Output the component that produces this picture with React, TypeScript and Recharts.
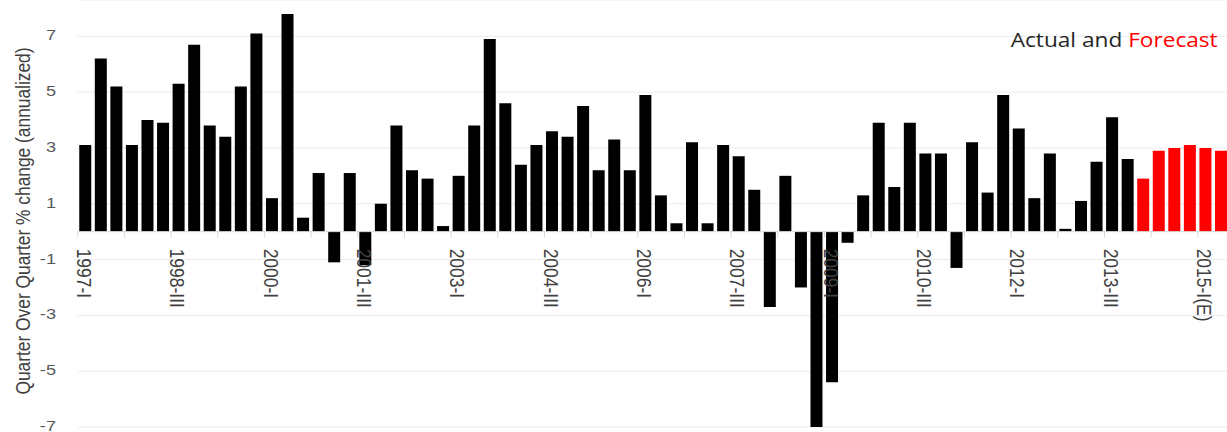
import React from "react";
import { BarChart, Bar, XAxis, YAxis, CartesianGrid, ReferenceLine, Cell } from "recharts";

const CATEGORIES: string[] = [
  "1997-I", "1997-II", "1997-III", "1997-IV",
  "1998-I", "1998-II", "1998-III", "1998-IV",
  "1999-I", "1999-II", "1999-III", "1999-IV",
  "2000-I", "2000-II", "2000-III", "2000-IV",
  "2001-I", "2001-II", "2001-III", "2001-IV",
  "2002-I", "2002-II", "2002-III", "2002-IV",
  "2003-I", "2003-II", "2003-III", "2003-IV",
  "2004-I", "2004-II", "2004-III", "2004-IV",
  "2005-I", "2005-II", "2005-III", "2005-IV",
  "2006-I", "2006-II", "2006-III", "2006-IV",
  "2007-I", "2007-II", "2007-III", "2007-IV",
  "2008-I", "2008-II", "2008-III", "2008-IV",
  "2009-I", "2009-II", "2009-III", "2009-IV",
  "2010-I", "2010-II", "2010-III", "2010-IV",
  "2011-I", "2011-II", "2011-III", "2011-IV",
  "2012-I", "2012-II", "2012-III", "2012-IV",
  "2013-I", "2013-II", "2013-III", "2013-IV",
  "2014-I(E)", "2014-II(E)", "2014-III(E)", "2014-IV(E)",
  "2015-I(E)", "2015-II(E)",
];

const ACTUAL: number[] = [
  3.1, 6.2, 5.2, 3.1,
  4.0, 3.9, 5.3, 6.7,
  3.8, 3.4, 5.2, 7.1,
  1.2, 7.8, 0.5, 2.1,
  -1.1, 2.1, -1.2, 1.0,
  3.8, 2.2, 1.9, 0.2,
  2.0, 3.8, 6.9, 4.6,
  2.4, 3.1, 3.6, 3.4,
  4.5, 2.2, 3.3, 2.2,
  4.9, 1.3, 0.3, 3.2,
  0.3, 3.1, 2.7, 1.5,
  -2.7, 2.0, -2.0, -7.0,
  -5.4, -0.4, 1.3, 3.9,
  1.6, 3.9, 2.8, 2.8,
  -1.3, 3.2, 1.4, 4.9,
  3.7, 1.2, 2.8, 0.1,
  1.1, 2.5, 4.1, 2.6,
];

const FORECAST: number[] = [1.9, 2.9, 3.0, 3.1, 3.0, 2.9];

const Y_TICKS: number[] = [-7, -5, -3, -1, 1, 3, 5, 7];
const Y_MIN = -7;
const Y_MAX = 8.3;

const CHART_W = 1229;
const CHART_H = 432;
const MARGIN = { top: 0, right: 0, bottom: 0, left: 0 };
const YAXIS_W = 77.7;
const XAXIS_H = 5;

const PLOT_W = CHART_W - MARGIN.left - MARGIN.right - YAXIS_W;
const PLOT_H = CHART_H - MARGIN.top - MARGIN.bottom - XAXIS_H;
const BAND = PLOT_W / CATEGORIES.length;
const ZERO_Y = MARGIN.top + (PLOT_H * Y_MAX) / (Y_MAX - Y_MIN);

const data = CATEGORIES.map((label, i) => {
  const isForecast = i >= ACTUAL.length;
  return {
    label,
    value: isForecast ? FORECAST[i - ACTUAL.length] : ACTUAL[i],
    forecast: isForecast,
  };
});

const AXIS_FONT = "'Liberation Sans', Arial, sans-serif";

const XTick = (props: any) => {
  const { x, index, payload } = props;
  const i = typeof index === "number" ? index : payload?.index ?? 0;
  return (
    <g>
      {i % 3 === 0 && (
        <line
          x1={x - BAND / 2}
          x2={x - BAND / 2}
          y1={ZERO_Y}
          y2={ZERO_Y + 6}
          stroke="#d9d9d9"
          strokeWidth={1}
        />
      )}
      {i % 6 === 0 && (
        <text
          x={0}
          y={5}
          transform={`translate(${x - 1}, ${ZERO_Y + 17}) rotate(90) scale(1.25, 1.5)`}
          textAnchor="start"
          fontSize={14}
          fontFamily={AXIS_FONT}
          fill="#404040"
        >
          {payload.value}
        </text>
      )}
    </g>
  );
};

const YTick = (props: any) => {
  const { y, payload } = props;
  return (
    <text
      x={0}
      y={0}
      transform={`translate(56, ${y + 4}) scale(1.3, 1)`}
      textAnchor="end"
      fontSize={14}
      fontFamily={AXIS_FONT}
      fill="#595959"
    >
      {payload.value}
    </text>
  );
};

const YTitle = () => (
  <text
    x={0}
    y={5}
    transform="translate(22, 221) rotate(-90) scale(1.24, 1.5)"
    textAnchor="middle"
    fontSize={14}
    fontFamily={AXIS_FONT}
    fill="#404040"
  >
    Quarter Over Quarter % change (annualized)
  </text>
);

export default function App() {
  return (
    <div
      style={{
        position: "fixed",
        left: 0,
        top: 0,
        width: 1227,
        height: 432,
        overflow: "hidden",
        background: "#ffffff",
      }}
    >
      <BarChart
        width={CHART_W}
        height={CHART_H}
        data={data}
        margin={MARGIN}
        barCategoryGap="10%"
      >
        <CartesianGrid vertical={false} stroke="#ebebeb" strokeWidth={1} />
        <ReferenceLine y={0} stroke="#d9d9d9" strokeWidth={1} />
        <XAxis
          dataKey="label"
          interval={0}
          tickLine={false}
          axisLine={false}
          height={XAXIS_H}
          tick={<XTick />}
        />
        <YAxis
          domain={[Y_MIN, Y_MAX]}
          ticks={Y_TICKS}
          interval={0}
          allowDataOverflow
          width={YAXIS_W}
          tickLine={false}
          axisLine={false}
          tickSize={0}
          tick={<YTick />}
        />
        <Bar dataKey="value" isAnimationActive={false}>
          {data.map((d, i) => (
            <Cell key={i} fill={d.forecast ? "#ff0000" : "#000000"} />
          ))}
        </Bar>
        <YTitle />
        <text
          x={1010.7}
          y={46.7}
          textLength={207}
          lengthAdjust="spacingAndGlyphs"
          fontSize={19.6}
          fontFamily="'Open Sans', sans-serif"
        >
          <tspan fill="#262626">{"Actual and "}</tspan>
          <tspan fill="#ff0000">Forecast</tspan>
        </text>
      </BarChart>
    </div>
  );
}
